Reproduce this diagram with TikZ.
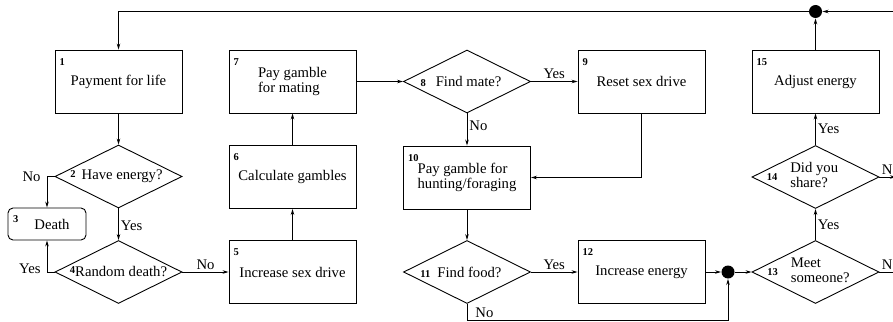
\documentclass[tikz,border=0pt]{standalone}
\usepackage{fontspec}
\setmainfont{Liberation Serif}
\usetikzlibrary{arrows.meta}
\usetikzlibrary{shapes.geometric}

\newcommand\numtag[1]{{\fontsize{10.5}{12}\selectfont\bfseries #1}}
\newcommand\flatline[1]{\makebox[0pt]{#1}}

\begin{document}
\begin{tikzpicture}[x=1pt,y=-1pt,line width=0.9pt,font=\fontsize{14.7}{15.5}\selectfont,
    procbox/.style={draw,rectangle,minimum width=127pt,minimum height=63pt,inner sep=0pt,align=center},
    decision/.style={draw,diamond,shape aspect=2,minimum width=127pt,minimum height=63pt,inner sep=0pt},
    endbox/.style={draw,rectangle,rounded corners=5pt,minimum width=78pt,minimum height=32pt,inner sep=0pt},
    junction/.style={circle,fill=black,inner sep=0pt,minimum size=13pt},
    tagbase/.style={font=\fontsize{10.5}{12}\selectfont\bfseries,inner sep=0pt},
    tag/.style={tagbase,anchor=north west,xshift=4.5pt,yshift=-8.5pt},
    answer/.style={inner sep=2pt},
    arr/.style={-{Stealth[length=6pt,width=3.5pt]}}]

    % page frame, the right exits run past it
    \useasboundingbox (0,0) rectangle (893,321);
    \clip (0,0) rectangle (893,321);

    % boxes
    \node[procbox,label={[tag]north west:1}] (b1) at (118.5,81.5) {Payment for life};
    \node[endbox,label={[tagbase,anchor=west,xshift=5pt,yshift=5pt]west:3}] (death) at (47,224) {\hspace*{10pt}Death};
    \node[procbox,label={[tag]north west:5}] (b5) at (292.5,272) {Increase sex drive};
    \node[procbox,label={[tag]north west:6}] (b6) at (292.5,177) {Calculate gambles};
    \node[procbox,align=left,label={[tag]north west:7}] (b7) at (292.5,81.5) {Pay gamble\\for mating};
    \node[procbox,label={[tag]north west:9}] (b9) at (641.5,81.5) {Reset sex drive};
    \node[procbox,align=left,label={[tag]north west:10}] (b10) at (467,177.5) {Pay gamble for\\hunting/foraging};
    \node[procbox,label={[tag]north west:12}] (b12) at (641.5,272) {Increase energy};
    \node[procbox,label={[tag]north west:15}] (b15) at (815.5,81.5) {Adjust energy};

    % decisions
    \node[decision] (d2) at (118.5,176.5) {\flatline{\raisebox{2pt}{\numtag{2}}\hspace{6pt}Have energy?\hspace*{4pt}}};
    \node[decision] (d4) at (118.5,272) {\flatline{\raisebox{3pt}{\numtag{4}}Random death?}};
    \node[decision] (d8) at (467,81.5) {\flatline{\numtag{8}\hspace{10pt}Find mate?\hspace*{12pt}}};
    \node[decision] (d11) at (467,272) {\flatline{\numtag{11}\hspace{7pt}Find food?\hspace*{12pt}}};
    \node[decision] (d13) at (815.5,272) {\flatline{\numtag{13}\hspace{13pt}\begin{tabular}[c]{@{}l@{}}Meet\\someone?\end{tabular}\hspace*{14pt}}};
    \node[decision] (d14) at (815.5,177) {\flatline{\numtag{14}\hspace{13pt}\begin{tabular}[c]{@{}l@{}}Did you\\share?\end{tabular}\hspace*{26pt}}};

    % joins
    \node[junction] (dot1) at (728,272) {};
    \node[junction] (dot2) at (815.5,11.5) {};
    \coordinate (rtop) at (896,11.5);
    \coordinate (rmid) at (896,177);
    \coordinate (rlow) at (896,272);

    % straight arrows
    \foreach \a/\b in {b1/d2,b5/b6,b6/b7,b7/d8,b10/d11,b12/dot1,dot1/d13,b15/dot2}
        \draw[arr] (\a) -- (\b);

    % back to the start
    \draw[arr] (dot2.west) -| (b1.north);

    % death branches
    \draw[arr] (d2.west) -| node[answer,left,pos=0.5,xshift=-4pt] (no2) {No} (death.north);
    \draw[arr] (d2) -- node[answer,right,yshift=-2pt] (yes2) {Yes} (d4);
    \draw[arr] (d4.west) -| node[answer,left,pos=0.5,xshift=-4pt,yshift=3pt] (yes4) {Yes} (death.south);
    \draw[arr] (d4) -- node[answer,above] (no4) {No} (b5);

    % mating
    \draw[arr] (d8) -- node[answer,above] (yes8) {Yes} (b9);
    \draw[arr] (d8) -- node[answer,right,yshift=4pt] (no8) {No} (b10);
    \draw[arr] (b9.south) |- (b10.east);

    % food
    \draw[arr] (d11) -- node[answer,above] (yes11) {Yes} (b12);
    \draw[arr] (d11.south) -- ++(0,16) coordinate (nofood) -| (dot1.south);
    \node[answer,anchor=south west,xshift=6pt] (no11) at (nofood) {No};

    % sharing
    \draw[arr] (d13) -- node[answer,right] (yes13) {Yes} (d14);
    \draw[arr] (d14) -- node[answer,right] (yes14) {Yes} (b15);
    \draw[arr] (d14.east) -- node[answer,anchor=south west,pos=0] (no14) {No} (rmid);
    \draw[arr] (d13.east) -- node[answer,anchor=south west,pos=0] (no13) {No} (rlow) -- (rtop) -- (dot2.east);

\end{tikzpicture}
\end{document}
